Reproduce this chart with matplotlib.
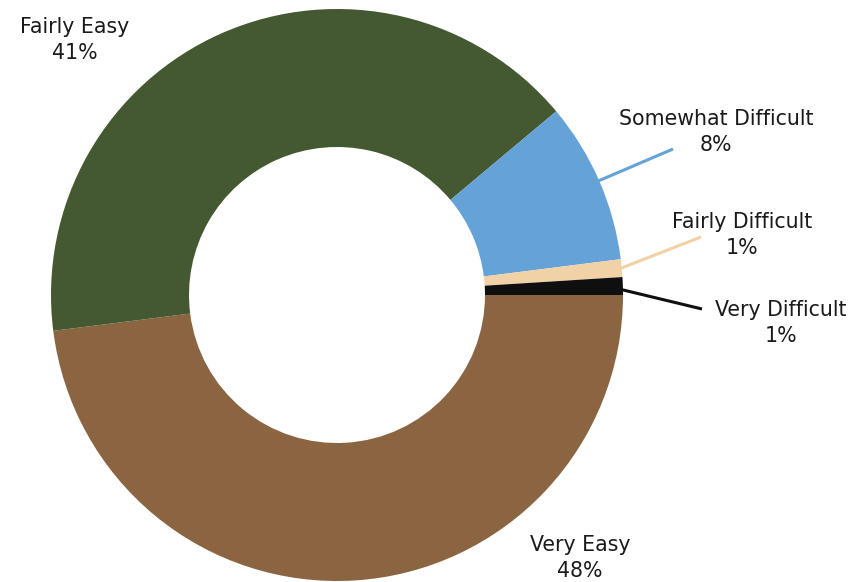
import numpy as np
import matplotlib
matplotlib.use("Agg")
import matplotlib.pyplot as plt

categories = ["Very Easy", "Fairly Easy", "Somewhat Difficult", "Fairly Difficult", "Very Difficult"]
shares = [48.0, 40.9, 9.1, 1.0, 1.0]
pct_labels = ["48%", "41%", "8%", "1%", "1%"]
colors = ["#8B6542", "#445931", "#64A2D8", "#F1D2A6", "#0F0F0F"]

W, H = 861, 582
fig = plt.figure(figsize=(W / 100, H / 100), dpi=100)
ax = fig.add_axes([0, 0, 1, 1])
ax.set_xlim(0, W)
ax.set_ylim(0, H)
ax.axis("off")

cx, cy, R = 337, H - 295, 286
wedges, _ = ax.pie(shares, startangle=0, counterclock=False, radius=R,
                   center=(cx, cy), colors=colors,
                   wedgeprops=dict(width=138, linewidth=0))
ax.set_xlim(0, W)
ax.set_ylim(0, H)

font = dict(family=["DejaVu Sans"], fontsize=14.8, color="#1a1a1a",
            ha="center", va="center", linespacing=1.4)

# label positions in pixel coordinates (top-left origin)
label_pos = {
    "Very Easy": (580, 558),
    "Fairly Easy": (75, 40),
    "Somewhat Difficult": (716, 132),
    "Fairly Difficult": (742, 235),
    "Very Difficult": (781, 323),
}
leader = {
    "Somewhat Difficult": (0.995, (673, 149)),
    "Fairly Difficult": (0.998, (701, 237)),
    "Very Difficult": (0.95, (702, 309)),
}

for w, cat, lab, col in zip(wedges, categories, pct_labels, colors):
    lx, ly = label_pos[cat]
    ax.text(lx, H - ly, f"{cat}\n{lab}", **font)
    if cat in leader:
        rf, (ex, ey) = leader[cat]
        mid = np.deg2rad((w.theta1 + w.theta2) / 2)
        sx = cx + R * rf * np.cos(mid)
        sy = cy + R * rf * np.sin(mid)
        ax.plot([sx, ex], [sy, H - ey], color=col, lw=2.2, solid_capstyle="butt")

fig.savefig("out.png", dpi=100)
